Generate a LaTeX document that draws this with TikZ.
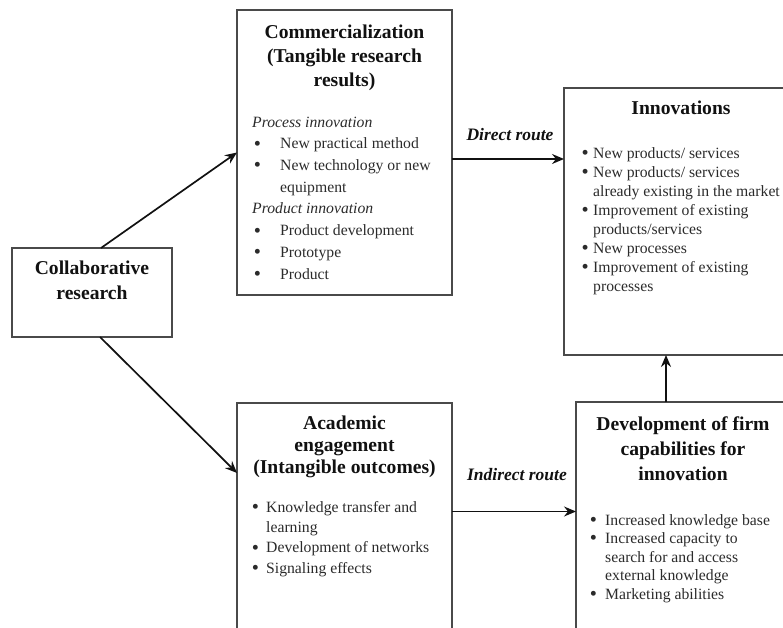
\documentclass[tikz,border=0pt]{standalone}
\usepackage{fontspec}
\setmainfont{Liberation Serif}
\usetikzlibrary{arrows.meta}
\definecolor{boxline}{HTML}{4A4A4A}
\definecolor{inkbody}{HTML}{2B2B2B}
\definecolor{inkhead}{HTML}{111111}
% enlarged bullet with a left gap (#1) in a box of width #2
\newcommand{\itembul}[2]{\hspace*{#1}\makebox[#2][l]{\hspace*{-0.7pt}\raisebox{-1.4pt}{\fontsize{20.4}{0}\selectfont\textbullet}}}
% multi-line text nodes are placed by the baseline of their last line
\tikzset{
  panel/.style={draw=boxline, line width=1.4pt, inner sep=0pt, outer sep=0pt, anchor=north west},
  headtext/.style={font=\bfseries\fontsize{19.6}{#1}\selectfont, text=inkhead, align=center, inner sep=0pt, anchor=base},
  bodytext/.style={font=\fontsize{15.7}{#1}\selectfont, text=inkbody, align=left, inner sep=0pt, anchor=base west},
  routetext/.style={font=\bfseries\itshape\fontsize{17.5}{20}\selectfont, text=inkhead, inner sep=0pt, anchor=base},
  flow/.style={draw=inkhead, line width=1.7pt, -{Stealth[length=12pt,width=10pt,inset=4pt]}},
}
\begin{document}
\begin{tikzpicture}[x=1pt, y=-1pt]
  \useasboundingbox (0,0) rectangle (783,628);
  \clip (0,0) rectangle (783,628);

  % boxes
  \node[panel, minimum width=160pt, minimum height=89pt]  (collab) at (12,248) {};
  \node[panel, minimum width=215pt, minimum height=285pt] (comm)   at (237,10) {};
  \node[panel, minimum width=234pt, minimum height=267pt] (innov)  at (564,88) {};
  \node[panel, minimum width=215pt, minimum height=240pt] (acad)   at (237,403) {};
  \node[panel, minimum width=214pt, minimum height=240pt] (dev)    at (576,402) {};

  % headings
  \node[headtext=25] (collabT) at (92,299.5) {Collaborative\\research};
  \node[headtext=24] (commT) at (344.5,86.5) {Commercialization\\(Tangible research\\results)};
  \node[headtext=24] (innovT) at (681,114.5) {Innovations};
  \node[headtext=22] (acadT) at (344.5,473.5) {Academic\\engagement\\(Intangible outcomes)};
  \node[headtext=25] (devT) at (683,480) {Development of firm\\capabilities for\\innovation};

  % item lists
  \node[bodytext=21.7] (commL) at (252,279) {%
    \textit{Process innovation}\\
    \itembul{2.3pt}{25.7pt}New practical method\\
    \itembul{2.3pt}{25.7pt}New technology or new\\
    \hspace*{28pt}equipment\\
    \textit{Product innovation}\\
    \itembul{2.3pt}{25.7pt}Product development\\
    \itembul{2.3pt}{25.7pt}Prototype\\
    \itembul{2.3pt}{25.7pt}Product};
  \node[bodytext=19] (innovL) at (582,291) {%
    \itembul{0pt}{11pt}New products/ services\\
    \itembul{0pt}{11pt}New products/ services\\
    \hspace*{11pt}already existing in the market\\
    \itembul{0pt}{11pt}Improvement of existing\\
    \hspace*{11pt}products/services\\
    \itembul{0pt}{11pt}New processes\\
    \itembul{0pt}{11pt}Improvement of existing\\
    \hspace*{11pt}processes};
  \node[bodytext=20.3] (acadL) at (252.3,573) {%
    \itembul{0pt}{13.7pt}Knowledge transfer and\\
    \hspace*{13.7pt}learning\\
    \itembul{0pt}{13.7pt}Development of networks\\
    \itembul{0pt}{13.7pt}Signaling effects};
  \node[bodytext=18.5] (devL) at (590.3,599) {%
    \itembul{0pt}{14.7pt}Increased knowledge base\\
    \itembul{0pt}{14.7pt}Increased capacity to\\
    \hspace*{14.7pt}search for and access\\
    \hspace*{14.7pt}external knowledge\\
    \itembul{0pt}{14.7pt}Marketing abilities};

  % route labels
  \node[routetext] (direct) at (510,141) {Direct route};
  \node[routetext] (indirect) at (517,480) {Indirect route};

  % connectors
  \coordinate (upStart) at ([xshift=9pt]collab.north);
  \coordinate (downStart) at ([xshift=8pt]collab.south);
  \coordinate (acadIn) at ([yshift=-70pt]acad.north west);
  \coordinate (directStart) at ([yshift=-6.5pt]comm.east);
  \coordinate (indirectStart) at ([yshift=11.5pt]acad.east);
  \coordinate (capUp) at ([xshift=-17pt]dev.north);

  \draw[flow] (upStart) -- (comm.west);
  \draw[flow] (downStart) -- (acadIn);
  \draw[flow] (directStart) -- (directStart -| innov.west);
  \draw[flow] (indirectStart) -- (indirectStart -| dev.west);
  \draw[flow] (capUp) -- (capUp |- innov.south);
\end{tikzpicture}
\end{document}
